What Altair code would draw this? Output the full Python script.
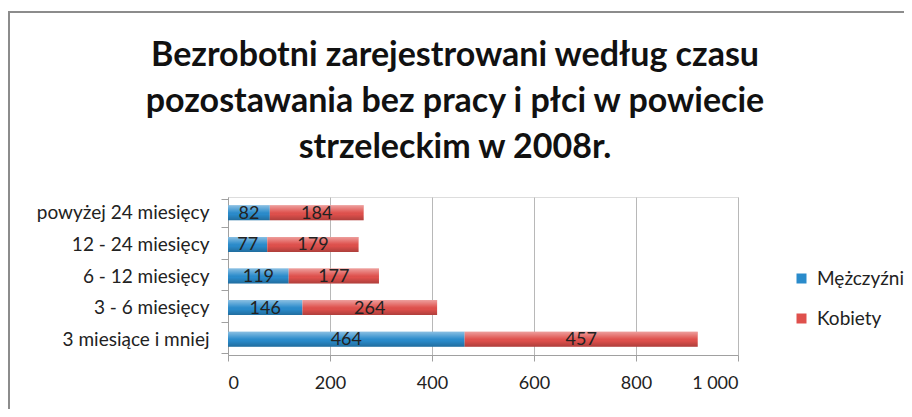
import altair as alt
import pandas as pd

categories = ["powyżej 24 miesięcy", "12 - 24 miesięcy", "6 - 12 miesięcy",
              "3 - 6 miesięcy", "3 miesiące i mniej"]
men = [82, 77, 119, 146, 464]
women = [184, 179, 177, 264, 457]
series = ["Mężczyźni", "Kobiety"]
colors = ["#2a8bcb", "#df504c"]
x_ticks = [0, 200, 400, 600, 800, 1000]
title_lines = ["Bezrobotni zarejestrowani według czasu",
               "pozostawania bez pracy i płci w powiecie",
               "strzeleckim w 2008r."]

rows = []
for c, m, w in zip(categories, men, women):
    rows.append({"cat": c, "series": series[0], "value": m, "ord": 0})
    rows.append({"cat": c, "series": series[1], "value": w, "ord": 1})
df = pd.DataFrame(rows)

FONT = "Lato"

base = alt.Chart(df).transform_stack(
    stack="value", groupby=["cat"], as_=["x0", "x1"],
    sort=[alt.SortField("ord", order="ascending")]
).transform_calculate(mid="(datum.x0 + datum.x1) / 2")

y_enc = alt.Y("cat:N", sort=categories, title=None,
              axis=alt.Axis(tickBand="extent", tickSize=7, labelPadding=12,
                            labelFontSize=19, labelFont=FONT, labelColor="#222",
                            domainColor="#a0a0a0", tickColor="#a0a0a0", grid=False))

bars = base.mark_bar(size=15).encode(
    y=y_enc,
    x=alt.X("x0:Q", scale=alt.Scale(domain=[0, 1000], nice=False), title=None,
            axis=alt.Axis(values=x_ticks, tickSize=6, labelPadding=13,
                          labelFontSize=18, labelFont=FONT, labelColor="#222",
                          labelExpr="replace(format(datum.value, ','), ',', ' ')",
                          domainColor="#a0a0a0", tickColor="#a0a0a0",
                          grid=True, gridColor="#b8b8b8")),
    x2="x1:Q",
    color=alt.Color("series:N", sort=series,
                    scale=alt.Scale(domain=series, range=colors),
                    legend=alt.Legend(title=None, labelLimit=250)),
)

gloss = base.mark_bar(size=15, fill=alt.Gradient(
    gradient="linear", x1=0, y1=0, x2=0, y2=1,
    stops=[alt.GradientStop(color="rgba(255,255,255,0.45)", offset=0),
           alt.GradientStop(color="rgba(255,255,255,0.05)", offset=0.45),
           alt.GradientStop(color="rgba(0,0,0,0.0)", offset=0.6),
           alt.GradientStop(color="rgba(0,0,0,0.22)", offset=1)])).encode(
    y=alt.Y("cat:N", sort=categories),
    x="x0:Q", x2="x1:Q",
)

labels = base.mark_text(fontSize=18, font=FONT, color="#222", dy=1).encode(
    y=alt.Y("cat:N", sort=categories),
    x="mid:Q",
    text="value:Q",
)

frame_df = pd.DataFrame({"a": [0]})
border_left = alt.Chart(frame_df).mark_rule(color="#8c8c8c", strokeWidth=2).encode(
    x=alt.value(-219), y=alt.value(-185), y2=alt.value(230))
border_top = alt.Chart(frame_df).mark_rule(color="#8c8c8c", strokeWidth=2).encode(
    x=alt.value(-220), x2=alt.value(700), y=alt.value(-185))

title_layers = []
for line, yy in zip(title_lines, [-131, -85, -39]):
    title_layers.append(
        alt.Chart(frame_df).mark_text(
            text=line, font=FONT, fontSize=34, fontWeight="bold", color="#111",
            align="center", baseline="alphabetic"
        ).encode(x=alt.value(227), y=alt.value(yy))
    )

chart = alt.layer(bars, gloss, labels, border_left, border_top, *title_layers).properties(
    width=510, height=158,
    padding={"left": 220, "top": 189, "right": 166, "bottom": 54},
    autosize=alt.AutoSizeParams(type="none"),
).configure_view(stroke=None).configure(background="white").configure_legend(
    orient="none", legendX=564, legendY=72, symbolType="square", symbolSize=100,
    symbolStrokeWidth=0, labelFontSize=19, labelFont=FONT, labelColor="#222",
    rowPadding=20, labelOffset=6, labelLimit=250
)

chart.save("out.html", embed_options={"renderer": "svg", "actions": False})
